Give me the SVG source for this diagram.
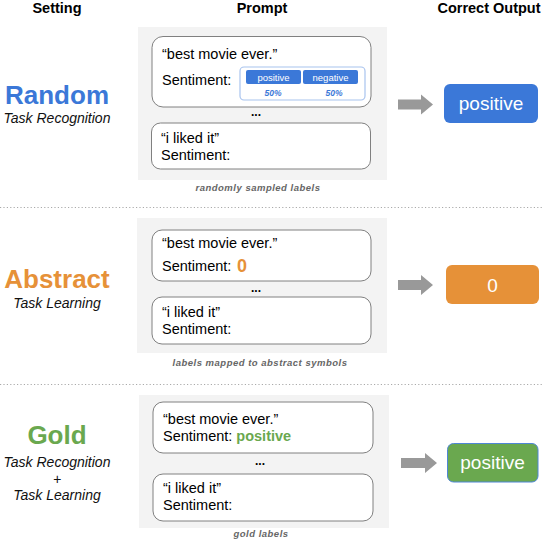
<svg xmlns="http://www.w3.org/2000/svg" width="544" height="540" viewBox="0 0 544 540">
<style>
text{font-family:"Liberation Sans",Arial,sans-serif;}
.hdr{font-size:14.5px;font-weight:bold;fill:#000;text-anchor:middle;}
.title{font-size:26px;font-weight:bold;text-anchor:middle;}
.sub{font-size:14px;font-style:italic;fill:#111;text-anchor:middle;}
.bg{fill:#f3f3f3;}
.card{fill:#fff;stroke:#808080;stroke-width:1;}
.t{font-size:14.5px;fill:#000;}
.dots{font-size:12px;font-weight:bold;fill:#000;text-anchor:middle;}
.cap{font-size:9.5px;font-weight:bold;font-style:italic;fill:#666;text-anchor:middle;letter-spacing:0.5px;}
.arrow{fill:#999;}
.out{font-size:19px;fill:#fff;text-anchor:middle;}
.sep{stroke:#aaa;stroke-width:1;stroke-dasharray:1.2 2.2;}
.pill{fill:#3b78d8;}
.pilltxt{font-size:9.5px;fill:#fff;text-anchor:middle;}
.pct{font-size:8.5px;font-weight:bold;font-style:italic;fill:#3b78d8;text-anchor:middle;}
</style>

<g id="headers">
<text class="hdr" x="57" y="13">Setting</text>
<text class="hdr" x="262" y="13">Prompt</text>
<text class="hdr" x="489" y="13">Correct Output</text>
</g>

<g id="separators">
<line class="sep" x1="0" y1="207.5" x2="544" y2="207.5"/>
<line class="sep" x1="0" y1="384.5" x2="544" y2="384.5"/>
</g>

<!-- Section 1: Random -->
<g id="setting-random">
<text class="title" x="57" y="104" fill="#3b78d8">Random</text>
<text class="sub" x="57" y="123">Task Recognition</text>
</g>
<g id="prompt-random">
<rect class="bg" x="138" y="27" width="249" height="153"/>
<rect class="card" x="152" y="36.5" width="219" height="70.5" rx="11"/>
<text class="t" x="162" y="59">“best movie ever.”</text>
<text class="t" x="162" y="85">Sentiment:</text>
<rect x="240" y="67" width="125" height="33" rx="4" fill="#fff" stroke="#a8c3ee" stroke-width="1.2"/>
<rect class="pill" x="246" y="70" width="55" height="14" rx="2"/>
<rect class="pill" x="303" y="70" width="55" height="14" rx="2"/>
<text class="pilltxt" x="273.5" y="80.5">positive</text>
<text class="pilltxt" x="330.5" y="80.5">negative</text>
<text class="pct" x="273" y="96">50%</text>
<text class="pct" x="334" y="96">50%</text>
<text class="dots" x="256" y="116">...</text>
<rect class="card" x="151.5" y="123" width="219" height="46" rx="9"/>
<text class="t" x="161" y="143">“i liked it”</text>
<text class="t" x="161" y="160">Sentiment:</text>
<text class="cap" x="258" y="191">randomly sampled labels</text>
</g>
<g id="output-random">
<rect x="444" y="84" width="94" height="39" rx="6" fill="#3b78d8"/>
<text class="out" x="491" y="110">positive</text>
</g>

<!-- Section 2: Abstract -->
<g id="setting-abstract">
<text class="title" x="57" y="288" fill="#e69138">Abstract</text>
<text class="sub" x="57" y="308">Task Learning</text>
</g>
<g id="prompt-abstract">
<rect class="bg" x="137" y="218" width="250" height="135"/>
<rect class="card" x="152" y="230" width="219" height="51" rx="10"/>
<text class="t" x="162" y="248">“best movie ever.”</text>
<text class="t" x="162" y="271">Sentiment:</text>
<text x="237" y="272" font-size="18" font-weight="bold" fill="#e69138">0</text>
<text class="dots" x="256" y="292">...</text>
<rect class="card" x="152" y="297" width="219" height="47" rx="10"/>
<text class="t" x="162" y="317">“i liked it”</text>
<text class="t" x="162" y="334">Sentiment:</text>
<text class="cap" x="260" y="366">labels mapped to abstract symbols</text>
</g>
<g id="output-abstract">
<rect x="446" y="265" width="93" height="39" rx="6" fill="#e69138"/>
<text class="out" x="492.5" y="292">0</text>
</g>

<!-- Section 3: Gold -->
<g id="setting-gold">
<text class="title" x="57" y="444" fill="#6aa84f">Gold</text>
<text class="sub" x="57" y="467">Task Recognition</text>
<text class="sub" x="57" y="484" font-style="normal">+</text>
<text class="sub" x="57" y="500">Task Learning</text>
</g>
<g id="prompt-gold">
<rect class="bg" x="139" y="395" width="250" height="133"/>
<rect class="card" x="153" y="402" width="220" height="51" rx="10"/>
<text class="t" x="163" y="424">“best movie ever.”</text>
<text class="t" x="163" y="441">Sentiment: <tspan font-weight="bold" fill="#6aa84f">positive</tspan></text>
<text class="dots" x="260" y="465">...</text>
<rect class="card" x="153" y="474" width="220" height="47" rx="10"/>
<text class="t" x="163" y="493">“i liked it”</text>
<text class="t" x="163" y="510">Sentiment:</text>
<text class="cap" x="261" y="537">gold labels</text>
</g>
<g id="output-gold">
<rect x="447.5" y="443.5" width="90.5" height="38.5" rx="6" fill="#6aa84f" stroke="#4f86d6" stroke-width="1"/>
<text class="out" x="492.5" y="469">positive</text>
</g>

<g id="connectors">
<path class="arrow" d="M398,99.5 H421 V94.5 L433,104.5 L421,114.5 V109.5 H398 Z"/>
<path class="arrow" d="M398,280 H421 V275 L433,285 L421,295 V290 H398 Z"/>
<path class="arrow" d="M401,458 H425 V453 L437,463 L425,473 V468 H401 Z"/>
</g>
</svg>
